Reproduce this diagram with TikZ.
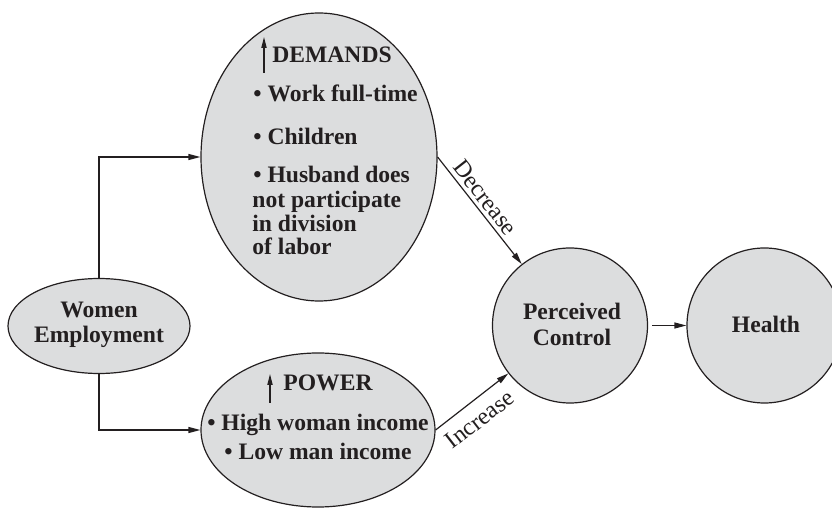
\documentclass[tikz,border=0pt]{standalone}
\usepackage{fontspec}
\setmainfont{Liberation Serif}
\usetikzlibrary{arrows.meta,shapes.geometric}
\definecolor{fillg}{HTML}{DCDDDE}
\definecolor{ink}{HTML}{231F20}
\tikzset{
  blob/.style={ellipse, draw=ink, line width=0.6pt, fill=fillg, inner sep=0pt},
  disc/.style={circle, draw=ink, line width=0.6pt, fill=fillg, inner sep=0pt, minimum size=77.5pt},
  conn/.style={draw=ink, line width=0.6pt, -{Triangle[length=6pt,width=3pt]}},
  upar/.style={draw=ink, line width=0.6pt, -{Triangle[length=5.5pt,width=2.6pt]}},
  lbl/.style={font=\fontsize{11.8}{12.8}\selectfont\bfseries, text=ink, inner sep=0pt},
  lblc/.style={lbl, align=center},
  edgelbl/.style={font=\fontsize{12}{13}\selectfont, text=ink, sloped, inner sep=2pt},
}
\begin{document}
\begin{tikzpicture}[x=0.5pt,y=-0.5pt]
\useasboundingbox (0,0) rectangle (832,508);
\clip (0,0) rectangle (832,508);
% shapes
\node[blob, minimum width=118pt, minimum height=144pt] (dem) at (319,157) {};
\node[blob, minimum width=117pt, minimum height=77pt] (pow) at (318,430) {};
\node[blob, minimum width=91pt, minimum height=47.5pt] (we) at (99,326) {};
\node[disc] (pc) at (570,325.5) {};
\node[disc] (hl) at (764.5,325.5) {};
% texts
\node[lblc, anchor=base] (wet1) at (99,318) {Women};
\node[lblc, anchor=base] (wet2) at (99,343) {Employment};
\node[lblc, anchor=base] (pct1) at (572,320) {Perceived};
\node[lblc, anchor=base] (pct2) at (572,346) {Control};
\node[lblc, anchor=base] (hlt) at (766,333) {Health};
% demands text
\node[lbl, anchor=base west] (dtitle) at (272,63) {DEMANDS};
\coordinate (da1) at (264,73);
\coordinate (da2) at (264,37);
\draw[upar] (da1) -- (da2);
\node[lbl, anchor=base west] (d1) at (253,102) {\textbullet\ Work full-time};
\node[lbl, anchor=base west] (d2) at (253,145) {\textbullet\ Children};
\node[lbl, anchor=base west] (d3) at (253,183) {\textbullet\ Husband does};
\node[lbl, anchor=base west] (d4) at (252,208) {not participate};
\node[lbl, anchor=base west] (d5) at (252,232) {in division};
\node[lbl, anchor=base west] (d6) at (252,255) {of labor};
% power text
\node[lbl, anchor=base west] (ptitle) at (283,391) {POWER};
\coordinate (pa1) at (270,403);
\coordinate (pa2) at (270,374);
\draw[upar] (pa1) -- (pa2);
\node[lbl, anchor=base] (p1) at (318,430) {\textbullet\ High woman income};
\node[lbl, anchor=base] (p2) at (318,460) {\textbullet\ Low man income};
% connectors
\draw[conn] (we.north) |- (dem.west);
\draw[conn] (we.south) |- (pow.west);
\draw[conn] (dem.east) -- node[edgelbl, above, pos=0.45] (declbl) {Decrease} (pc);
\draw[conn] (pow.east) -- node[edgelbl, below=3pt, pos=0.45] (inclbl) {Increase} (pc);
\draw[conn, shorten <=2pt] (pc) -- (hl);
\end{tikzpicture}
\end{document}
